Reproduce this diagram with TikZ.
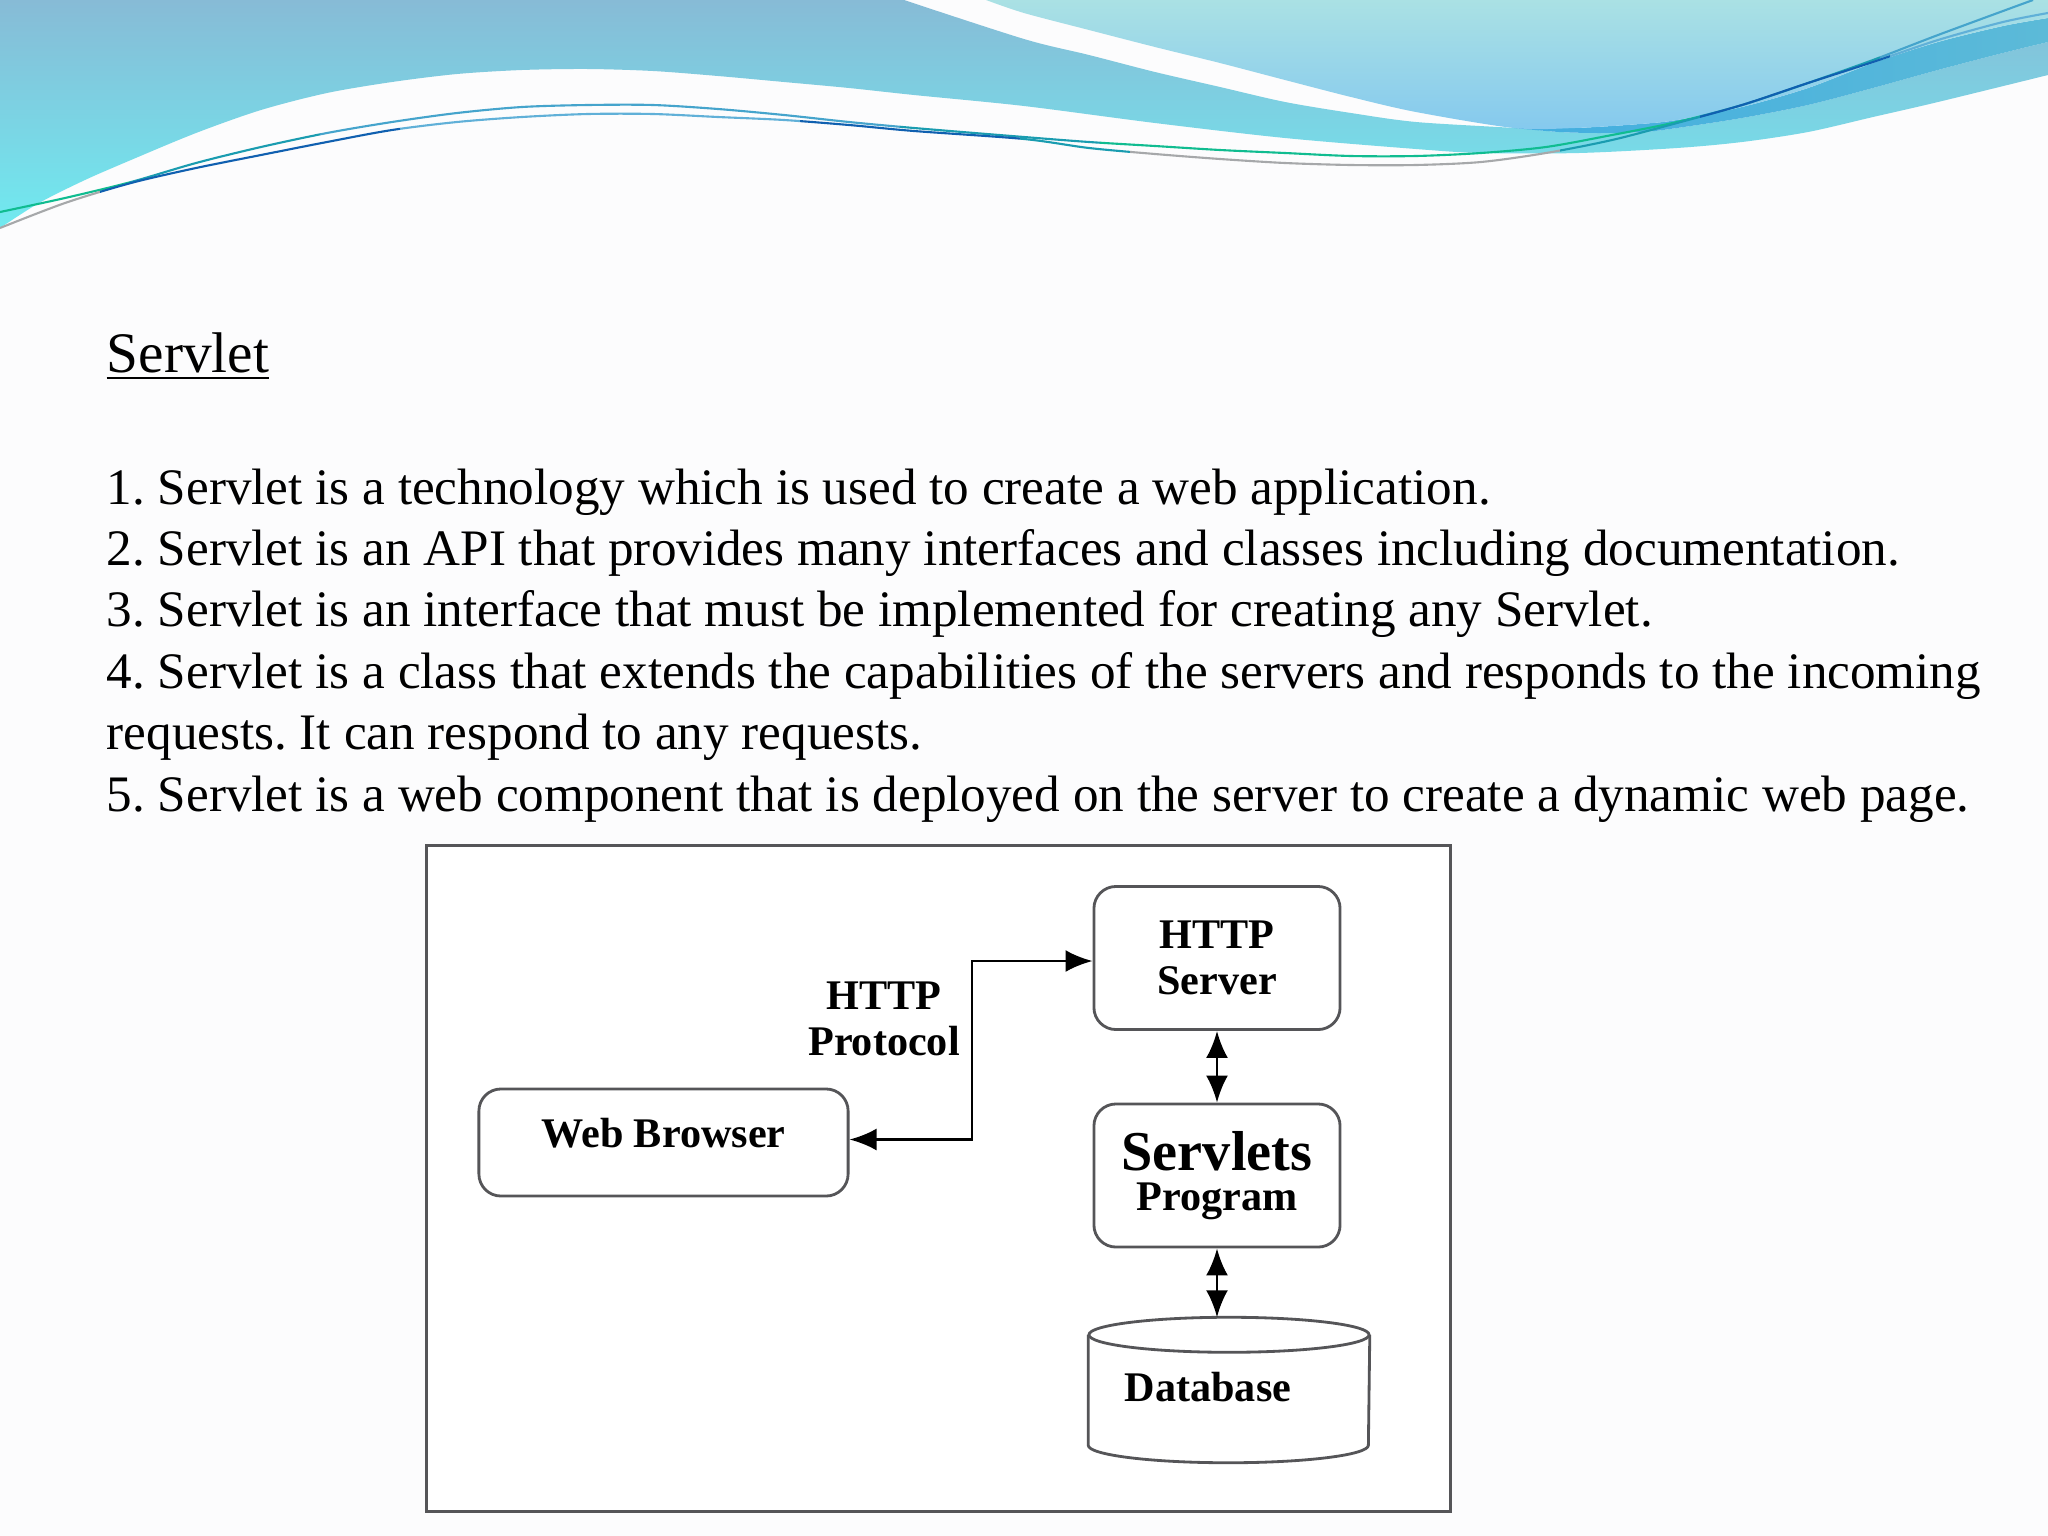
\documentclass[tikz,border=0pt]{standalone}
\usepackage{fontspec}
\setmainfont{Liberation Serif}
\usetikzlibrary{arrows.meta,positioning}

\definecolor{paper}{HTML}{FCFCFD}
\definecolor{edgegrey}{HTML}{555558}
\definecolor{linegreen}{HTML}{10BC90}
\definecolor{lineteal}{HTML}{1A9CB0}
\definecolor{linesky}{HTML}{45A4CC}
\definecolor{lineblue}{HTML}{1060B0}
\definecolor{linepale}{HTML}{60B0D8}
\definecolor{linegrey}{HTML}{A6A8AA}

\tikzset{
  procbox/.style={draw=edgegrey, line width=0.8pt, rounded corners=0.22cm, fill=white,
    align=center, inner sep=0pt, font=\bfseries\fontsize{12}{13}\selectfont},
  plainlabel/.style={align=center, inner sep=0pt, font=\bfseries\fontsize{12}{13}\selectfont},
  bodytext/.style={align=left, inner sep=0pt, font=\fontsize{14.55}{17.45}\selectfont\frenchspacing},
  drumline/.style={draw=edgegrey, line width=0.8pt, fill=white},
  link/.style={line width=0.8pt, {Latex[length=0.27cm,width=0.22cm]}-{Latex[length=0.27cm,width=0.22cm]}},
}

\begin{document}
\begin{tikzpicture}[x=0.01cm, y=-0.01cm]
\def\upperline{plot[smooth] coordinates {(0,212) (65,198) (131,182) (196,163) (261,147) (327,133) (392,122)
  (457,113) (522,107) (588,105) (653,105) (718,109) (784,115) (849,122) (914,128) (1024,137)
  (1089,142) (1155,146) (1220,150) (1285,153) (1351,156) (1416,156) (1481,153) (1546,147)
  (1612,135) (1677,122) (1742,105) (1808,83) (1873,60) (1938,35) (2033,0)}}
\def\lowerline{plot[smooth] coordinates {(0,228) (65,203) (131,183) (196,168) (261,155) (327,142) (392,130)
  (457,122) (522,117) (588,114) (653,114) (718,117) (784,120) (849,125) (914,131) (1024,139)
  (1089,148) (1155,154) (1220,159) (1285,163) (1351,165) (1416,165) (1481,162) (1546,153)
  (1612,140) (1677,123) (1742,105) (1808,83) (1873,62) (1938,40) (2003,22) (2048,13)}}

\useasboundingbox (0,0) rectangle (2048,1536);
\fill[paper] (0,0) rectangle (2048,1536);

\shade[top color={rgb,255:red,135;green,187;blue,214}, bottom color={rgb,255:red,112;green,234;blue,240}]
  (0,0) -- (904,0) -- plot[smooth] coordinates {(904,0) (1024,39) (1089,55) (1155,72) (1220,87) (1285,102) (1351,113) (1416,122) (1514,128)
    (1559,132) (1599,133) (1644,132) (1677,128) (1742,118) (1808,105) (1873,88) (1938,70) (2003,53) (2048,42)}
  -- (2048,75) -- plot[smooth] coordinates {(2048,75) (1938,102) (1873,117) (1808,132) (1742,142) (1677,148) (1579,153) (1481,153) (1416,149)
    (1285,138) (1155,123) (1024,106) (914,95) (849,88) (784,82) (718,76) (653,71) (588,69) (522,70) (457,74) (392,82) (327,93)
    (261,110) (196,133) (131,160) (85,180) (39,203) (0,228)}
  -- cycle;
\shade[left color={rgb,255:red,66;green,174;blue,224}, right color={rgb,255:red,92;green,186;blue,216}]
  plot[smooth] coordinates {(1514,128) (1559,132) (1599,133) (1644,132) (1677,128) (1742,118) (1808,105) (1873,88) (1938,70) (2003,53) (2048,42)}
  -- (2048,18) -- plot[smooth] coordinates {(2048,18) (2003,26) (1938,42) (1873,63) (1808,88) (1742,107) (1677,120) (1640,124) (1575,128) (1514,128)}
  -- cycle;
\shade[top color={rgb,255:red,170;green,225;blue,228}, bottom color={rgb,255:red,133;green,201;blue,238}]
  (986,0) -- plot[smooth] coordinates {(986,0) (1024,13) (1089,30) (1155,47) (1220,63) (1285,80) (1351,97) (1416,112) (1514,128)
    (1575,128) (1640,124) (1677,120) (1742,107) (1808,88) (1873,63) (1938,42) (2003,26) (2048,18)}
  -- (2048,0) -- cycle;

\foreach \xl/\xr/\col in {0/130/linegreen, 130/320/lineteal, 320/900/linesky, 900/1100/lineteal,
    1100/1700/linegreen, 1700/1880/lineteal, 1880/2048/linesky} {
  \begin{scope}
    \clip (\xl,0) rectangle (\xr,300);
    \draw[\col, line width=0.6pt] \upperline;
  \end{scope}
}
\foreach \xl/\xr/\col in {0/100/linegrey, 100/400/lineblue, 400/800/linepale, 800/1020/lineblue,
    1020/1130/lineteal, 1130/1560/linegrey, 1560/1700/lineteal, 1700/1890/lineblue, 1890/2048/linepale} {
  \begin{scope}
    \clip (\xl,0) rectangle (\xr,300);
    \draw[\col, line width=0.6pt] \lowerline;
  \end{scope}
}

\node[anchor=north west, inner sep=0pt, font=\fontsize{16.3}{20}\selectfont] (title) at (106,332) {\underline{Servlet}};
\node[bodytext, anchor=north west] (points) at (106,468) {%
1. Servlet is a technology which is used to create a web application.\\
2. Servlet is an API that provides many interfaces and classes including documentation.\\
3. Servlet is an interface that must be implemented for creating any Servlet.\\
4. Servlet is a class that extends the capabilities of the servers and responds to the incoming\\
requests. It can respond to any requests.\\
5. Servlet is a web component that is deployed on the server to create a dynamic web page.};

\node[draw=edgegrey, line width=0.85pt, fill=white, minimum width=10.23cm, minimum height=6.65cm, inner sep=0pt] (frame) at (938.5,1178.5) {};

\node[procbox, minimum width=2.46cm, minimum height=1.43cm] (server) at (1217,958) {HTTP\\Server};
\node[procbox, minimum width=2.46cm, minimum height=1.43cm] (servlets) at (1217,1175.5)
  {{\fontsize{16}{17}\selectfont Servlets}\\[-0.05cm]Program};
\node[procbox, minimum width=3.69cm, minimum height=1.07cm, text depth=0.2cm] (browser) at (663.5,1142.5) {Web Browser};
\node[minimum width=2.8cm, minimum height=1.44cm, inner sep=0pt] (store) at (1229,1390) {};
\draw[drumline] ([yshift=-0.175cm]store.north west) -- ([yshift=0.175cm]store.south west)
  arc[start angle=180, end angle=360, x radius=1.4cm, y radius=0.175cm]
  -- ([yshift=-0.175cm]store.north east);
\draw[drumline] ([yshift=-0.175cm]store.north) ellipse [x radius=1.4cm, y radius=0.175cm];
\node[plainlabel] (storename) at (1208,1387) {Database};
\node[plainlabel] (protocol) at (884,1019) {HTTP\\Protocol};

\coordinate (bend) at (972,1050);
\draw[link] ([yshift=0.03cm]browser.east) -| (bend) |- ([yshift=-0.03cm]server.west);
\draw[link] (server.south) -- (servlets.north);
\draw[link] (servlets.south) -- (servlets.south |- store.north);
\end{tikzpicture}
\end{document}
